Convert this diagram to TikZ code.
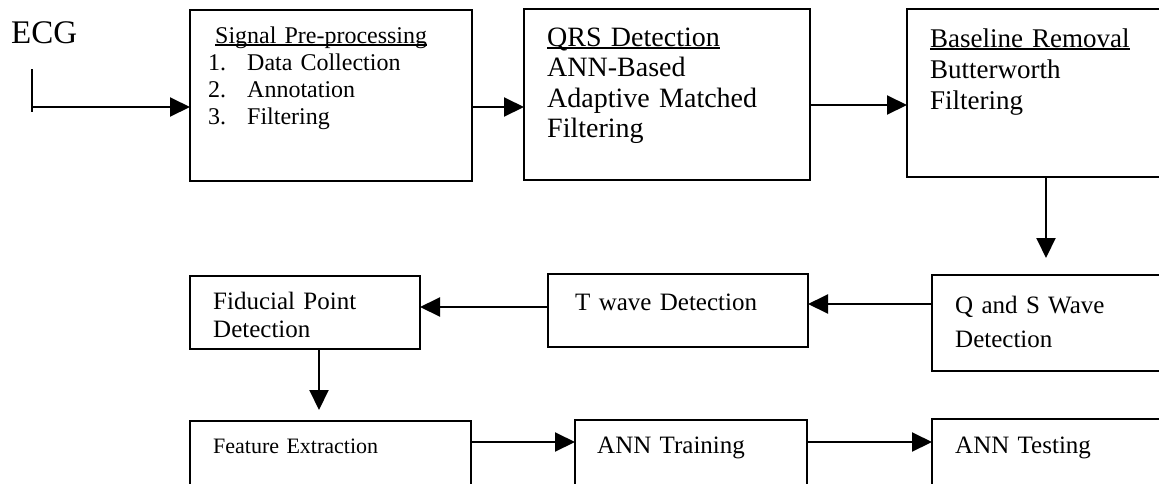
\documentclass[tikz,border=0pt]{standalone}
\usepackage{fontspec}
\setmainfont{Liberation Serif}
\usetikzlibrary{positioning,shapes,arrows.meta}

\newcommand{\undl}[1]{\setbox0\hbox{#1}\rlap{\rule[-2.5pt]{\wd0}{1.3pt}}#1}
\newcommand{\fs}[2]{\fontsize{#1}{#2}\selectfont}

\tikzset{
    block/.style={draw, line width=2pt, inner sep=0pt, outer sep=0pt},
    lbl/.style={anchor=base west, inner sep=0pt, text width=260pt, align=left},
    arr/.style={line width=2pt, -{Triangle[length=20pt,width=19pt]}}
}

\begin{document}
\begin{tikzpicture}[x=1pt,y=-1pt]
    \useasboundingbox (0,0) rectangle (1159,483);

    % Top row
    \node[block, minimum width=282pt, minimum height=171pt] (pre) at (331,95.5) {};
    \node[block, minimum width=286pt, minimum height=171pt] (qrs) at (667,94.5) {};
    \node[block, minimum width=263pt, minimum height=168pt] (base) at (1038.5,93) {};
    \node[lbl, font=\fs{24}{27}] (pretxt) at (208,43) {\hspace*{7pt}\undl{Signal Pre-processing}\\
        \makebox[39pt][l]{1.}Data Collection\\
        \makebox[39pt][l]{2.}Annotation\\
        \makebox[39pt][l]{3.}Filtering};
    \node[lbl, font=\fs{28}{30.5}] (qrstxt) at (547,46) {\undl{QRS Detection}\\ANN-Based\\Adaptive Matched\\Filtering};
    \node[lbl, font=\fs{27}{31}] (basetxt) at (930,47) {\undl{Baseline Removal}\\Butterworth\\Filtering};

    % ECG input
    \node[lbl, font=\fs{33}{35}] (ecg) at (11,43) {ECG};
    \coordinate (ecgtop) at (32,69);
    \coordinate (ecgbot) at (32,112);
    \coordinate (ecgin) at (32,107);
    \draw[line width=2pt] (ecgtop) -- (ecgbot);

    % Middle row
    \node[block, minimum width=230pt, minimum height=73pt] (fid) at (305,312.5) {};
    \node[block, minimum width=260pt, minimum height=73pt] (twave) at (678,310.5) {};
    \node[block, minimum width=238pt, minimum height=96pt] (qs) at (1051,323) {};
    \node[lbl, font=\fs{25}{28}] (fidtxt) at (213,309) {Fiducial Point\\Detection};
    \node[lbl, font=\fs{25}{28}] (twavetxt) at (575,310) {T wave Detection};
    \node[lbl, font=\fs{25}{34}] (qstxt) at (955,313) {Q and S Wave\\Detection};

    % Bottom row
    \node[block, minimum width=281pt, minimum height=69pt] (feat) at (330.5,455.5) {};
    \node[block, minimum width=232pt, minimum height=70pt] (train) at (691,455) {};
    \node[block, minimum width=238pt, minimum height=71pt] (test) at (1051,454.5) {};
    \node[lbl, font=\fs{22}{26}] (feattxt) at (213,453) {Feature Extraction};
    \node[lbl, font=\fs{25}{28}] (traintxt) at (597,453) {ANN Training};
    \node[lbl, font=\fs{25}{28}] (testtxt) at (955,453) {ANN Testing};

    % Connectors
    \draw[arr] (ecgin) -- (ecgin -| pre.west);
    \draw[arr] ([yshift=-11.5pt]pre.east) -- ([yshift=-11.5pt]pre.east -| qrs.west);
    \draw[arr] ([yshift=-10.5pt]qrs.east) -- ([yshift=-10.5pt]qrs.east -| base.west);
    \draw[arr, shorten >=17pt] ([xshift=7.5pt]base.south) -- ([xshift=7.5pt]base.south |- qs.north);
    \draw[arr] ([yshift=19pt]qs.west) -- ([yshift=19pt]qs.west -| twave.east);
    \draw[arr] ([yshift=3.5pt]twave.west) -- ([yshift=3.5pt]twave.west -| fid.east);
    \draw[arr, shorten >=11pt] ([xshift=14pt]fid.south) -- ([xshift=14pt]fid.south |- feat.north);
    \draw[arr] ([yshift=13.5pt]feat.east) -- ([yshift=13.5pt]feat.east -| train.west);
    \draw[arr] ([yshift=13pt]train.east) -- ([yshift=13pt]train.east -| test.west);
\end{tikzpicture}
\end{document}
